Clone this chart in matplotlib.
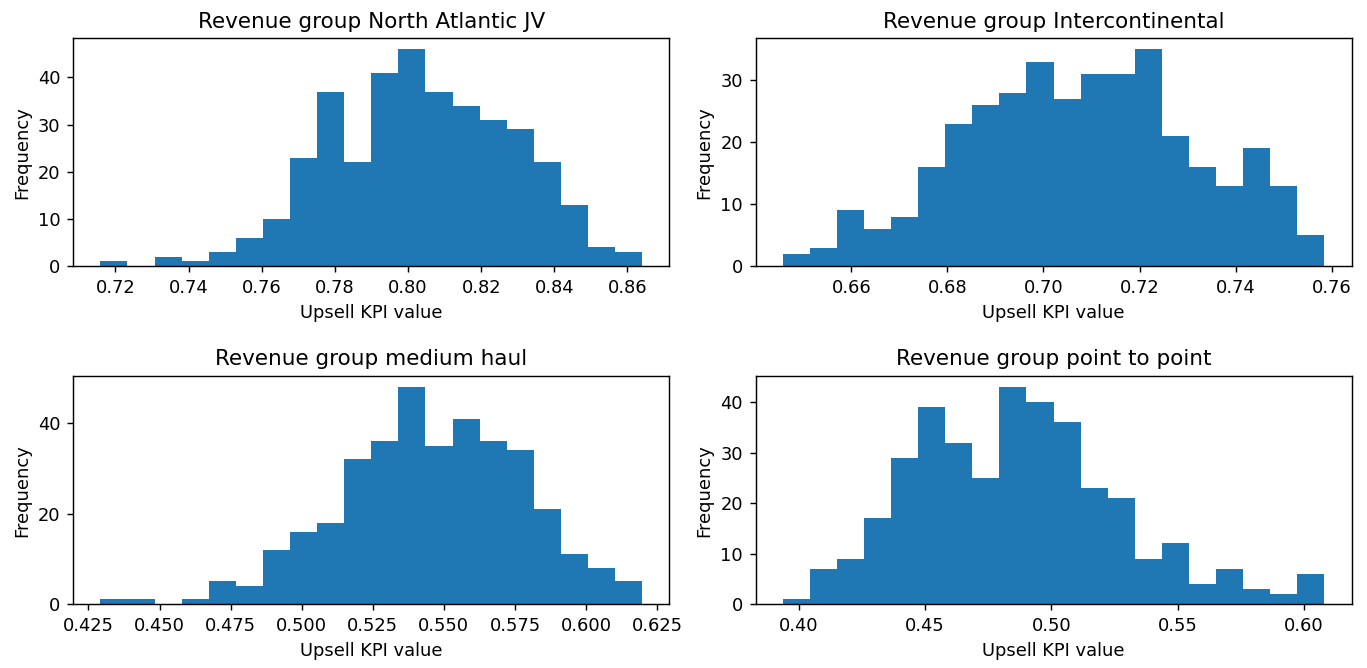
import numpy as np
import matplotlib
matplotlib.use("Agg")
import matplotlib.pyplot as plt
from matplotlib.ticker import MultipleLocator

# Daily upsell KPI histograms, 20 bins per revenue group
groups = ["North Atlantic JV", "Intercontinental", "medium haul", "point to point"]

# bin range (first left edge, last right edge) for each group
nat_range = (0.7159, 0.8640)
intl_range = (0.6457, 0.7585)
medium_range = (0.4292, 0.6197)
p2p_range = (0.3936, 0.6082)

# counts per bin
nat_counts = [1, 0, 2, 1, 3, 6, 10, 23, 37, 22, 41, 46, 37, 34, 31, 29, 22, 13, 4, 3]
intl_counts = [2, 3, 9, 6, 8, 16, 23, 26, 28, 33, 27, 31, 31, 35, 21, 16, 13, 19, 13, 5]
medium_counts = [1, 1, 0, 1, 5, 4, 12, 16, 18, 32, 36, 48, 35, 41, 36, 34, 21, 11, 8, 5]
p2p_counts = [1, 7, 9, 17, 29, 39, 32, 25, 43, 40, 36, 23, 21, 9, 12, 4, 7, 3, 2, 6]

# y tick spacing per panel
y_steps = [10, 10, 20, 10]

ranges = [nat_range, intl_range, medium_range, p2p_range]
counts = [nat_counts, intl_counts, medium_counts, p2p_counts]

dpi = 129
fig, axes = plt.subplots(2, 2, figsize=(1367 / dpi, 668 / dpi), dpi=dpi)

for ax, name, (lo, hi), cnt, step in zip(axes.flat, groups, ranges, counts, y_steps):
    edges = np.linspace(lo, hi, len(cnt) + 1)
    ax.hist(edges[:-1], bins=edges, weights=cnt, color="#1f77b4")
    ax.yaxis.set_major_locator(MultipleLocator(step))
    ax.set_title(f"Revenue group {name}")
    ax.set_xlabel("Upsell KPI value")
    ax.set_ylabel("Frequency")

fig.subplots_adjust(left=0.0536, right=0.9887, top=0.9427, bottom=0.0958,
                    wspace=0.145, hspace=0.483)
fig.savefig("out.png", dpi=dpi)
